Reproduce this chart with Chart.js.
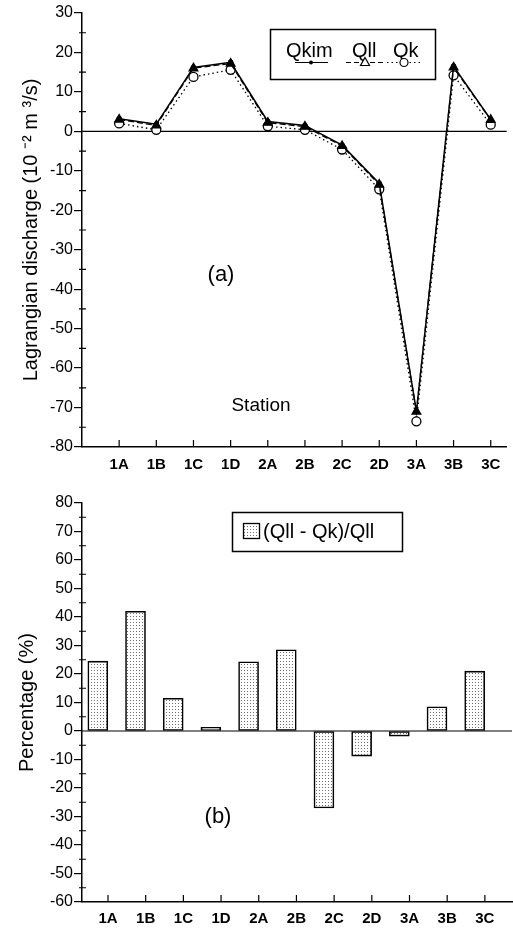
<!DOCTYPE html>
<html>
<head>
<meta charset="utf-8">
<script src="https://cdn.jsdelivr.net/npm/chart.js@4.4.1/dist/chart.umd.min.js"></script>
<style>
  html, body { margin: 0; padding: 0; background: #fff; }
  #wrap { position: relative; width: 513px; height: 929px; }
  canvas { position: absolute; left: 0; }
</style>
</head>
<body>
<div id="wrap">
  <canvas id="chart-a" width="513" height="480" style="top:0"></canvas>
  <canvas id="chart-b" width="513" height="449" style="top:480px"></canvas>
</div>
<script>
// station labels along both x axes
const stations = ["1A", "1B", "1C", "1D", "2A", "2B", "2C", "2D", "3A", "3B", "3C"];

// (a) Lagrangian discharge, 10^-2 m^3/s
const qkim = [3.2, 1.8, 16.2, 17.5, 2.5, 1.5, -3.5, -13.2, -71.0, 16.5, 3.0];
const qll  = [3.0, 1.5, 16.0, 17.2, 2.2, 1.2, -3.7, -13.5, -71.0, 16.2, 2.9];
const qk   = [2.0, 0.4, 13.8, 15.6, 1.3, 0.4, -4.6, -14.7, -73.5, 14.2, 1.7];

// (b) (Qll - Qk)/Qll in %
const pctDiff = [24.5, 42, 11.5, 1.3, 24.3, 28.5, -27, -8.8, -1.8, 8.5, 21];

const FONT = '"Liberation Sans", Arial, Helvetica, sans-serif';
Chart.defaults.font.family = FONT;
Chart.defaults.color = "#000";

function points(vals) {
  return vals.map((v, i) => ({ x: i + 1, y: v }));
}

function makeDots(ctx) {
  const c = document.createElement("canvas");
  c.width = 3;
  c.height = 3;
  const g = c.getContext("2d");
  g.fillStyle = "#fff";
  g.fillRect(0, 0, 3, 3);
  g.fillStyle = "#6e6e6e";
  g.fillRect(1, 1, 1, 1);
  return ctx.createPattern(c, "repeat");
}

// inward station ticks, minor y ticks at the fives, zero line
const axisDecor = {
  id: "axisDecor",
  beforeDatasetsDraw(chart) {
    const { ctx, chartArea, scales } = chart;
    const y0 = scales.y.getPixelForValue(0);
    ctx.save();
    ctx.strokeStyle = "#000";
    ctx.lineWidth = 1.2;
    ctx.beginPath();
    ctx.moveTo(chartArea.left, y0);
    ctx.lineTo(chartArea.right, y0);
    ctx.stroke();
    ctx.restore();
  },
  afterDraw(chart) {
    const { ctx, chartArea, scales } = chart;
    ctx.save();
    ctx.strokeStyle = "#000";
    ctx.lineWidth = 1.2;
    ctx.beginPath();
    stations.forEach((s, i) => {
      const x = scales.x.getPixelForValue(i + 1);
      ctx.moveTo(x, chartArea.bottom);
      ctx.lineTo(x, chartArea.bottom - 7);
    });
    for (let v = scales.y.min + 5; v < scales.y.max; v += 10) {
      const y = scales.y.getPixelForValue(v);
      ctx.moveTo(chartArea.left - 3, y);
      ctx.lineTo(chartArea.left + 4, y);
    }
    ctx.stroke();
    ctx.restore();
  }
};

const notesA = {
  id: "notesA",
  afterDraw(chart) {
    const ctx = chart.ctx;
    ctx.save();
    ctx.fillStyle = "#000";
    ctx.strokeStyle = "#000";
    ctx.textBaseline = "middle";
    ctx.textAlign = "center";
    ctx.font = "22px " + FONT;
    ctx.fillText("(a)", 221, 275);
    ctx.font = "19px " + FONT;
    ctx.fillText("Station", 261, 406);

    // legend box
    ctx.lineWidth = 1.5;
    ctx.strokeRect(270.5, 29.5, 165, 50);
    ctx.textAlign = "left";
    ctx.textBaseline = "alphabetic";
    ctx.font = "20px " + FONT;
    ctx.fillText("Qkim", 286, 57);
    ctx.fillText("Qll", 352, 57);
    ctx.fillText("Qk", 393, 57);

    const ly = 62.5;
    ctx.lineWidth = 1.2;
    ctx.beginPath();
    ctx.moveTo(295, ly);
    ctx.lineTo(328, ly);
    ctx.stroke();
    ctx.beginPath();
    ctx.arc(311, ly, 2, 0, Math.PI * 2);
    ctx.fill();

    ctx.setLineDash([5, 3]);
    ctx.beginPath();
    ctx.moveTo(346, ly);
    ctx.lineTo(384, ly);
    ctx.stroke();
    ctx.setLineDash([]);
    ctx.fillStyle = "#fff";
    ctx.beginPath();
    ctx.moveTo(365, ly - 5);
    ctx.lineTo(369.5, ly + 3);
    ctx.lineTo(360.5, ly + 3);
    ctx.closePath();
    ctx.fill();
    ctx.stroke();

    ctx.setLineDash([1.5, 3]);
    ctx.beginPath();
    ctx.moveTo(387, ly);
    ctx.lineTo(421, ly);
    ctx.stroke();
    ctx.setLineDash([]);
    ctx.beginPath();
    ctx.arc(404, ly, 4, 0, Math.PI * 2);
    ctx.fill();
    ctx.stroke();
    ctx.restore();
  }
};

const notesB = {
  id: "notesB",
  afterDraw(chart) {
    const ctx = chart.ctx;
    ctx.save();
    ctx.fillStyle = "#000";
    ctx.strokeStyle = "#000";
    ctx.textBaseline = "middle";
    ctx.textAlign = "center";
    ctx.font = "22px " + FONT;
    ctx.fillText("(b)", 218, 337);

    ctx.lineWidth = 1.5;
    ctx.strokeRect(232.5, 32.5, 170, 39);
    ctx.fillStyle = chart.data.datasets[0].backgroundColor;
    ctx.fillRect(243, 43, 17, 16);
    ctx.lineWidth = 1.3;
    ctx.strokeRect(243.5, 43.5, 16, 15);
    ctx.fillStyle = "#000";
    ctx.textAlign = "left";
    ctx.font = "20px " + FONT;
    ctx.fillText("(Qll - Qk)/Qll", 263, 52);
    ctx.restore();
  }
};

function xScale(min, max, height, pad) {
  return {
    type: "linear",
    min: min,
    max: max,
    offset: false,
    afterBuildTicks: s => { s.ticks = stations.map((_, i) => ({ value: i + 1 })); },
    afterFit: s => { s.height = height; },
    grid: { display: false, drawTicks: false, offset: false },
    border: { color: "#000", width: 1.5 },
    ticks: {
      autoSkip: false,
      maxRotation: 0,
      padding: pad,
      color: "#000",
      font: { size: 15, weight: "bold" },
      callback: v => stations[v - 1]
    }
  };
}

function yScale(min, max, title, titlePad) {
  return {
    min: min,
    max: max,
    afterFit: s => { s.width = 82; },
    grid: { drawOnChartArea: false, drawTicks: true, tickLength: 8, color: "#000", lineWidth: 1.2 },
    border: { color: "#000", width: 1.5 },
    ticks: { stepSize: 10, padding: 1, color: "#000", font: { size: 16 } },
    title: {
      display: true,
      text: title,
      color: "#000",
      font: { size: 20 },
      padding: { top: titlePad, bottom: 0 }
    }
  };
}

new Chart(document.getElementById("chart-a"), {
  type: "line",
  data: {
    datasets: [
      {
        label: "Qkim",
        data: points(qkim),
        borderColor: "#000",
        borderWidth: 1.5,
        pointStyle: "circle",
        pointRadius: 2,
        pointBackgroundColor: "#000",
        pointBorderColor: "#000"
      },
      {
        label: "Qll",
        data: points(qll),
        borderColor: "#000",
        borderWidth: 1.3,
        borderDash: [6, 3],
        pointStyle: "triangle",
        pointRadius: 5,
        pointBackgroundColor: "#000",
        pointBorderColor: "#000"
      },
      {
        label: "Qk",
        data: points(qk),
        borderColor: "#000",
        borderWidth: 1.3,
        borderDash: [1.5, 3],
        pointStyle: "circle",
        pointRadius: 4.5,
        pointBorderWidth: 1.3,
        pointBackgroundColor: "#fff",
        pointBorderColor: "#000"
      }
    ]
  },
  options: {
    responsive: false,
    animation: false,
    devicePixelRatio: 1,
    layout: { padding: { top: 13, right: 1, left: 0, bottom: 0 } },
    plugins: { legend: { display: false }, tooltip: { enabled: false } },
    scales: {
      x: xScale(0, 11.43, 33, 9),
      y: yScale(-80, 30, "Lagrangian discharge (10 \u207B\u00B2 m \u00B3/s)", 19)
    }
  },
  plugins: [axisDecor, notesA]
});

const canvasB = document.getElementById("chart-b");
const barShift = 0.27;

new Chart(canvasB, {
  type: "bar",
  data: {
    datasets: [
      {
        label: "(Qll - Qk)/Qll",
        data: pctDiff.map((v, i) => ({ x: i + 1 - barShift, y: v })),
        backgroundColor: makeDots(canvasB.getContext("2d")),
        borderColor: "#000",
        borderWidth: 1.6,
        borderSkipped: false,
        barThickness: 20
      }
    ]
  },
  options: {
    responsive: false,
    animation: false,
    devicePixelRatio: 1,
    layout: { padding: { top: 23, right: 1, left: 0, bottom: 0 } },
    plugins: { legend: { display: false }, tooltip: { enabled: false } },
    scales: {
      x: xScale(0.31, 11.72, 27, 8),
      y: yScale(-60, 80, "Percentage (%)", 15)
    }
  },
  plugins: [axisDecor, notesB]
});
</script>
</body>
</html>
